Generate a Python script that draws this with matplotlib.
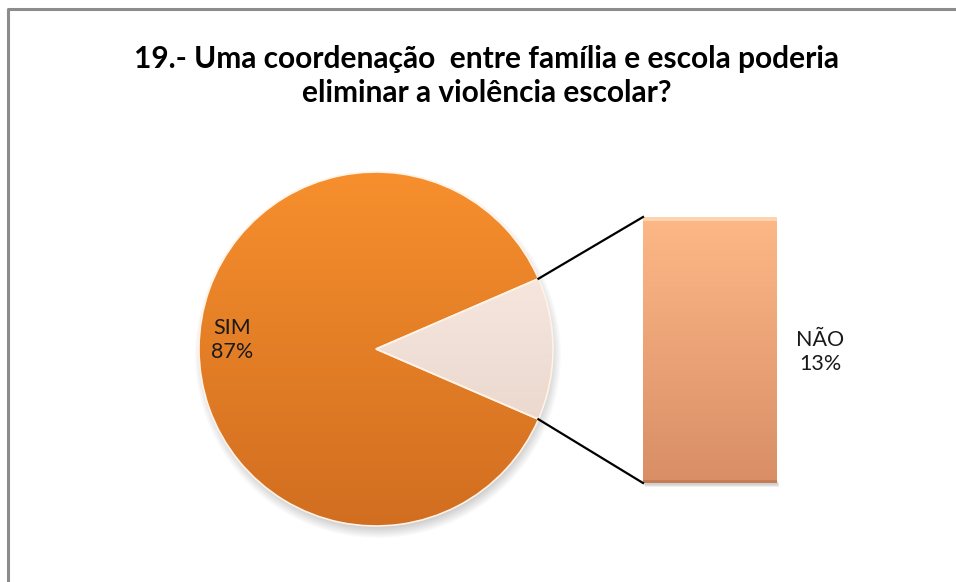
import numpy as np
import matplotlib
matplotlib.use("Agg")
import matplotlib.pyplot as plt
from matplotlib.colors import LinearSegmentedColormap
from matplotlib.patches import Rectangle

# Survey answers
categories = ["NÃO", "SIM"]
shares = [13, 87]
title = "19.- Uma coordenação  entre família e escola poderia\neliminar a violência escolar?"

plt.rcParams['font.family'] = ['Lato', 'DejaVu Sans']

W, H = 956, 582
fig = plt.figure(figsize=(W / 100, H / 100), dpi=100)
ax = fig.add_axes([0, 0, 1, 1])

# chart-area frame (top and left edges visible)
ax.plot([8, 8, W], [0, H - 9, H - 9], color='#8c8c8c', lw=2.2, solid_capstyle='butt')

cx, cy, r = 376, H - 349, 177
start = -shares[0] / sum(shares) * 180.0

# soft drop shadow under the pie
for k in range(10):
    ax.add_patch(plt.Circle((cx + 2, cy - 6), r + 6 - k * 1.2, color='#000000',
                            alpha=0.018, lw=0, zorder=0.5))

wedges, _ = ax.pie(shares, startangle=start, center=(cx, cy), radius=r,
                   colors=['#f6e2d6', '#e9822a'],
                   wedgeprops=dict(edgecolor='#fff3e8', linewidth=1.2),
                   frame=True)
ax.set_xlim(0, W)
ax.set_ylim(0, H)
ax.set_aspect('equal')
ax.axis('off')

def vgrad(patch, top, bottom, extent, z):
    cmap = LinearSegmentedColormap.from_list('g', [bottom, top])
    g = np.linspace(0, 1, 256).reshape(-1, 1)
    im = ax.imshow(g, cmap=cmap, extent=extent, origin='lower', aspect='auto',
                   zorder=z, interpolation='bilinear')
    im.set_clip_path(patch)

ext = (cx - r, cx + r, cy - r, cy + r)
vgrad(wedges[1], '#f78f2d', '#d16e20', ext, 1.5)
vgrad(wedges[0], '#fdf0e8', '#e4cfc5', ext, 1.5)
for w in wedges:
    w.set_zorder(2)
    w.set_facecolor('none')

# secondary bar for the broken-out answer
bar_x0, bar_w = 643, 134
bar_bottom, bar_top = H - 483, H - 217
scale = (bar_top - bar_bottom) / shares[0]
bars = ax.bar(bar_x0 + bar_w / 2, shares[0] * scale, width=bar_w, bottom=bar_bottom,
              color='#f5a877', edgecolor='none', zorder=2)
b = bars[0]
vgrad(b, '#fdb887', '#d98e66', (bar_x0, bar_x0 + bar_w, bar_bottom, bar_top), 1.6)
b.set_facecolor('none')
# bevel highlights on the bar
ax.add_patch(Rectangle((bar_x0, bar_top - 4), bar_w, 4, color='#ffd2b0', lw=0, zorder=2.1))
ax.add_patch(Rectangle((bar_x0, bar_bottom), bar_w, 3, color='#c57c55', lw=0, zorder=2.1))
for k in range(6):
    ax.add_patch(Rectangle((bar_x0 + 2 - k * 0.2, bar_bottom - 4 + k * 0.5), bar_w, 4,
                           color='#000000', alpha=0.03, lw=0, zorder=1))

# connector lines from the split slice to the bar
a1 = np.deg2rad(-start)
a2 = np.deg2rad(start)
p1 = (cx + r * np.cos(a1), cy + r * np.sin(a1))
p2 = (cx + r * np.cos(a2), cy + r * np.sin(a2))
ax.plot([p1[0], bar_x0], [p1[1], bar_top], color='black', lw=1.6, zorder=3)
ax.plot([p2[0], bar_x0], [p2[1], bar_bottom], color='black', lw=1.6, zorder=3)

# data labels
ax.text(232, H - 340, f"{categories[1]}\n{shares[1]}%", ha='center', va='center',
        fontsize=15.5, color='#1a1a1a', linespacing=1.2, zorder=4)
ax.text(820, H - 352, f"{categories[0]}\n{shares[0]}%", ha='center', va='center',
        fontsize=15.5, color='#1a1a1a', linespacing=1.2, zorder=4)

ax.text(487, H - 76, title, ha='center', va='center', fontsize=21.5, fontweight='bold',
        color='black', linespacing=1.3, zorder=4)

fig.savefig('out.png', dpi=100)
